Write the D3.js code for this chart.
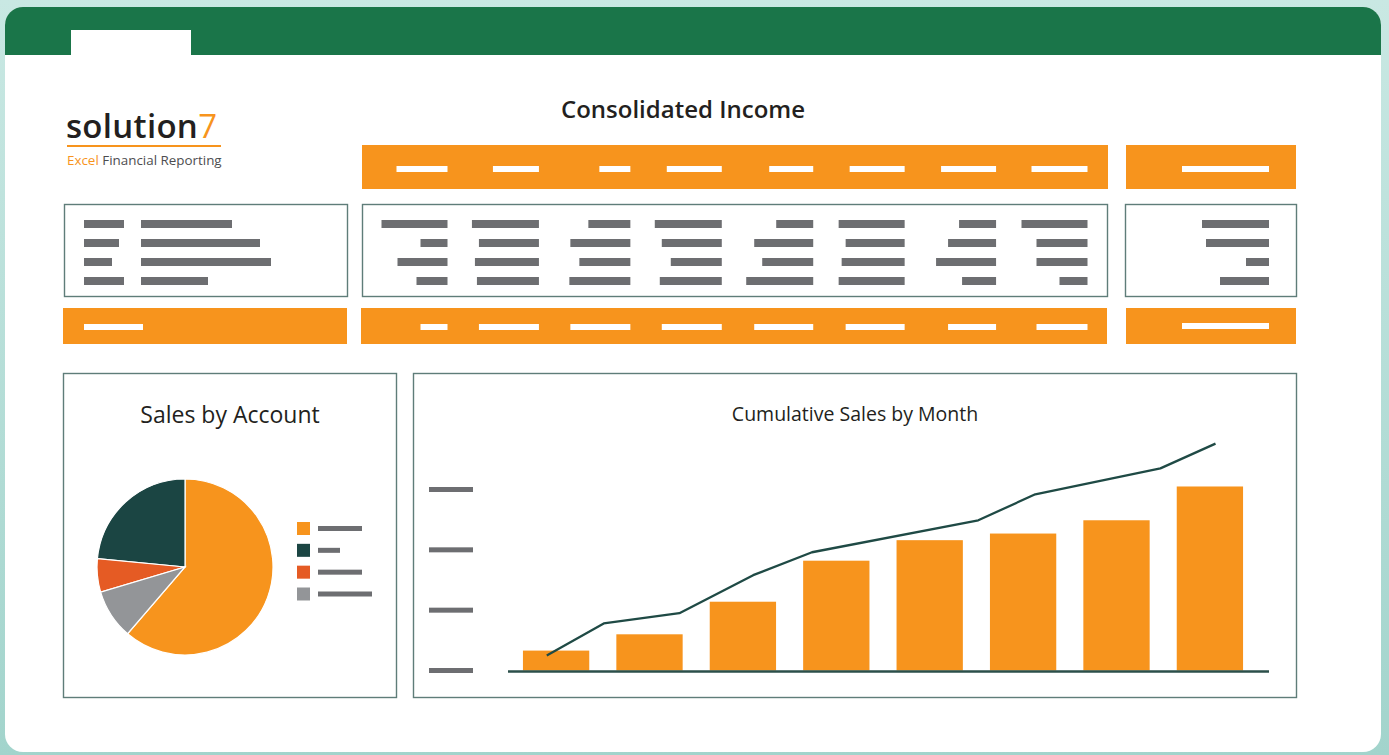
<!DOCTYPE html>
<html>
<head>
<meta charset="utf-8">
<script src="https://cdn.jsdelivr.net/npm/d3@7"></script>
<style>
  html, body { margin: 0; padding: 0; background: #aad8d1; overflow: hidden; }
  text { font-family: "Open Sans", "Noto Sans", sans-serif; }
</style>
</head>
<body>
<div id="dash"></div>
<script>
/**
 * DATA
 * */
const title = "Consolidated Income",
  pieTitle = "Sales by Account",
  barTitle = "Cumulative Sales by Month";

// placeholder "text" lengths for the table (px), one array per row
const headerLens = [51, 46, 31, 55, 44, 55, 55, 56];
const headerTotalLen = 87;
const labelCodeLens = [40, 35, 28, 40];
const labelNameLens = [91, 119, 130, 67];
const cellLens = [
  [66, 67, 42, 67, 37, 66, 37, 66],
  [27, 60, 60, 60, 59, 59, 48, 51],
  [50, 64, 51, 51, 51, 63, 60, 51],
  [31, 62, 61, 62, 67, 66, 34, 28]
];
const rowTotalLens = [67, 63, 23, 49];
const footerLabelLen = 59;
const footerLens = [27, 60, 60, 60, 59, 59, 48, 51];
const footerTotalLen = 87;

// pie
const accounts = ["A", "B", "C", "D"];
const accountShare = [61.3, 23.5, 6.1, 9.1];
const pieOrder = ["A", "D", "C", "B"]; // clockwise from 12 o'clock
const legendLens = [44, 22, 44, 54];
const accountColors = ["#f7941d", "#1b4543", "#e55b24", "#939598"];

// bars
const months = ["M1", "M2", "M3", "M4", "M5", "M6", "M7", "M8"];
const monthSales = [0.33, 0.60, 1.14, 1.82, 2.16, 2.27, 2.49, 3.05];
// cumulative line: [month position, value]
const linePos = [-0.10, 0.51, 1.32, 2.11, 2.74, 4.52, 5.13, 6.47, 7.06];
const lineVals = [0.25, 0.78, 0.95, 1.58, 1.96, 2.49, 2.92, 3.35, 3.76];
const yTicks = [0, 1, 2, 3];

/**
 * CONSTANTS
 * */
const width = 1389, height = 755;
const orange = "#f7941d", green = "#1a7549", boxStroke = "#5f7d79",
  placeholder = "#6d6e71", dark = "#1f4a45";

const svg = d3.select("#dash").append("svg")
  .attr("width", width).attr("height", height);

// background
const defs = svg.append("defs");
const bg = defs.append("linearGradient").attr("id", "bg")
  .attr("x1", 0).attr("y1", 0).attr("x2", 0).attr("y2", 1);
bg.append("stop").attr("offset", "0%").attr("stop-color", "#c9e8e3");
bg.append("stop").attr("offset", "100%").attr("stop-color", "#a2d4cc");
svg.append("rect").attr("width", width).attr("height", height).attr("fill", "url(#bg)");

// card
defs.append("clipPath").attr("id", "card")
  .append("rect").attr("x", 5).attr("y", 7).attr("width", 1376).attr("height", 745).attr("rx", 18);
const card = svg.append("g").attr("clip-path", "url(#card)");
card.append("rect").attr("x", 5).attr("y", 7).attr("width", 1376).attr("height", 745).attr("fill", "#fff");
card.append("rect").attr("x", 5).attr("y", 7).attr("width", 1376).attr("height", 48).attr("fill", green);
card.append("rect").attr("x", 71).attr("y", 30).attr("width", 120).attr("height", 26).attr("fill", "#fff");

// logo
const logo = svg.append("g");
logo.append("text").attr("x", 66).attr("y", 138)
  .attr("font-size", 33).attr("font-weight", 600).attr("fill", "#231f20")
  .attr("letter-spacing", 0.3)
  .text("solution").append("tspan").attr("fill", orange).attr("font-weight", 500).text("7");
logo.append("rect").attr("x", 67).attr("y", 145).attr("width", 154).attr("height", 2).attr("fill", orange);
const tag = logo.append("text").attr("x", 67).attr("y", 165).attr("font-size", 13.4).attr("fill", "#4d4d4f");
tag.append("tspan").attr("fill", orange).text("Excel ");
tag.append("tspan").text("Financial Reporting");

svg.append("text").attr("x", 683).attr("y", 118).attr("text-anchor", "middle")
  .attr("font-size", 24).attr("font-weight", 600).attr("fill", "#231f20")
  .text(title);

/**
 * TABLE
 * */
const colRight = d3.scalePoint().domain(d3.range(8)).range([447.5, 1087.5]);
const rowY = d3.scalePoint().domain(d3.range(4)).range([224, 281]);
const totalRight = 1269;

function band(x, y, w, h) {
  svg.append("rect").attr("x", x).attr("y", y).attr("width", w).attr("height", h).attr("fill", orange);
}
function box(x, y, w, h) {
  svg.append("rect").attr("x", x).attr("y", y).attr("width", w).attr("height", h)
    .attr("fill", "none").attr("stroke", boxStroke).attr("stroke-width", 1.4);
}
function bars(data, xRight, y, h, fill) {
  svg.append("g").selectAll("rect").data(data).join("rect")
    .attr("x", (d, i) => xRight(i) - d)
    .attr("y", y).attr("width", d => d).attr("height", h).attr("fill", fill);
}

// header
band(362, 145, 746, 44);
band(1126, 145, 170, 44);
bars(headerLens, i => colRight(i), 166, 6, "#fff");
bars([headerTotalLen], () => totalRight, 166, 6, "#fff");

// body
box(64.5, 204.5, 283, 92);
box(362.5, 204.5, 745, 92);
box(1125.5, 204.5, 171, 92);
svg.append("g").selectAll("rect").data(labelCodeLens).join("rect")
  .attr("x", 84).attr("y", (d, i) => rowY(i) - 4).attr("width", d => d).attr("height", 8).attr("fill", placeholder);
svg.append("g").selectAll("rect").data(labelNameLens).join("rect")
  .attr("x", 141).attr("y", (d, i) => rowY(i) - 4).attr("width", d => d).attr("height", 8).attr("fill", placeholder);
cellLens.forEach((row, r) => bars(row, i => colRight(i), rowY(r) - 4, 8, placeholder));
svg.append("g").selectAll("rect").data(rowTotalLens).join("rect")
  .attr("x", d => totalRight - d).attr("y", (d, i) => rowY(i) - 4)
  .attr("width", d => d).attr("height", 8).attr("fill", placeholder);

// footer
band(63, 308, 284, 36);
band(361, 308, 746, 36);
band(1126, 308, 170, 36);
svg.append("rect").attr("x", 84).attr("y", 324).attr("width", footerLabelLen).attr("height", 6).attr("fill", "#fff");
bars(footerLens, i => colRight(i), 324, 6, "#fff");
bars([footerTotalLen], () => totalRight, 323, 6, "#fff");

/**
 * PIE
 * */
box(63.5, 373.5, 333, 324);
svg.append("text").attr("x", 230).attr("y", 423).attr("text-anchor", "middle")
  .attr("font-size", 23).attr("fill", "#231f20").text(pieTitle);

const pieData = accounts.map((a, i) => ({ key: a, value: accountShare[i], color: accountColors[i] }));
const pie = d3.pie().value(d => d.value)
  .sort((a, b) => pieOrder.indexOf(a.key) - pieOrder.indexOf(b.key));
const arc = d3.arc().innerRadius(0).outerRadius(88);
svg.append("g").attr("transform", "translate(185,567)")
  .selectAll("path").data(pie(pieData)).join("path")
  .attr("d", arc).attr("fill", d => d.data.color)
  .attr("stroke", "#fff").attr("stroke-width", 1.2);

const legY = d3.scalePoint().domain(accounts).range([528.5, 594]);
const leg = svg.append("g").selectAll("g").data(pieData).join("g")
  .attr("transform", d => `translate(297,${legY(d.key)})`);
leg.append("rect").attr("x", 0).attr("y", -6.5).attr("width", 13).attr("height", 13).attr("fill", d => d.color);
leg.append("rect").attr("x", 21).attr("y", -2.5).attr("width", (d, i) => legendLens[i]).attr("height", 5).attr("fill", placeholder);

/**
 * BAR + LINE
 * */
box(413.5, 373.5, 883, 324);
svg.append("text").attr("x", 855).attr("y", 421).attr("text-anchor", "middle")
  .attr("font-size", 19.5).attr("fill", "#231f20").text(barTitle);

const xScale = d3.scaleBand().domain(months).range([508, 1258]).paddingInner(0.29).paddingOuter(0.16);
const yScale = d3.scaleLinear().domain([0, 3]).range([670.5, 489.5]);
const xPos = d3.scaleLinear().domain([0, 7])
  .range([xScale(months[0]) + xScale.bandwidth() / 2, xScale(months[7]) + xScale.bandwidth() / 2]);

// tick placeholders in place of labels
svg.append("g").selectAll("rect").data(yTicks).join("rect")
  .attr("x", 429).attr("y", d => yScale(d) - 2.5).attr("width", 44).attr("height", 5).attr("fill", placeholder);

svg.append("g").selectAll("rect").data(monthSales).join("rect")
  .attr("x", (d, i) => xScale(months[i])).attr("width", xScale.bandwidth())
  .attr("y", d => yScale(d)).attr("height", d => yScale(0) - yScale(d))
  .attr("fill", orange);

svg.append("line").attr("x1", 508).attr("x2", 1269)
  .attr("y1", yScale(0) + 1).attr("y2", yScale(0) + 1)
  .attr("stroke", "#2b4f4a").attr("stroke-width", 2.5);

const lineFunc = d3.line().x(d => xPos(d[0])).y(d => yScale(d[1]));
svg.append("path").datum(linePos.map((p, i) => [p, lineVals[i]]))
  .attr("d", lineFunc).attr("fill", "none")
  .attr("stroke", dark).attr("stroke-width", 2.3).attr("stroke-linejoin", "round");
</script>
</body>
</html>
